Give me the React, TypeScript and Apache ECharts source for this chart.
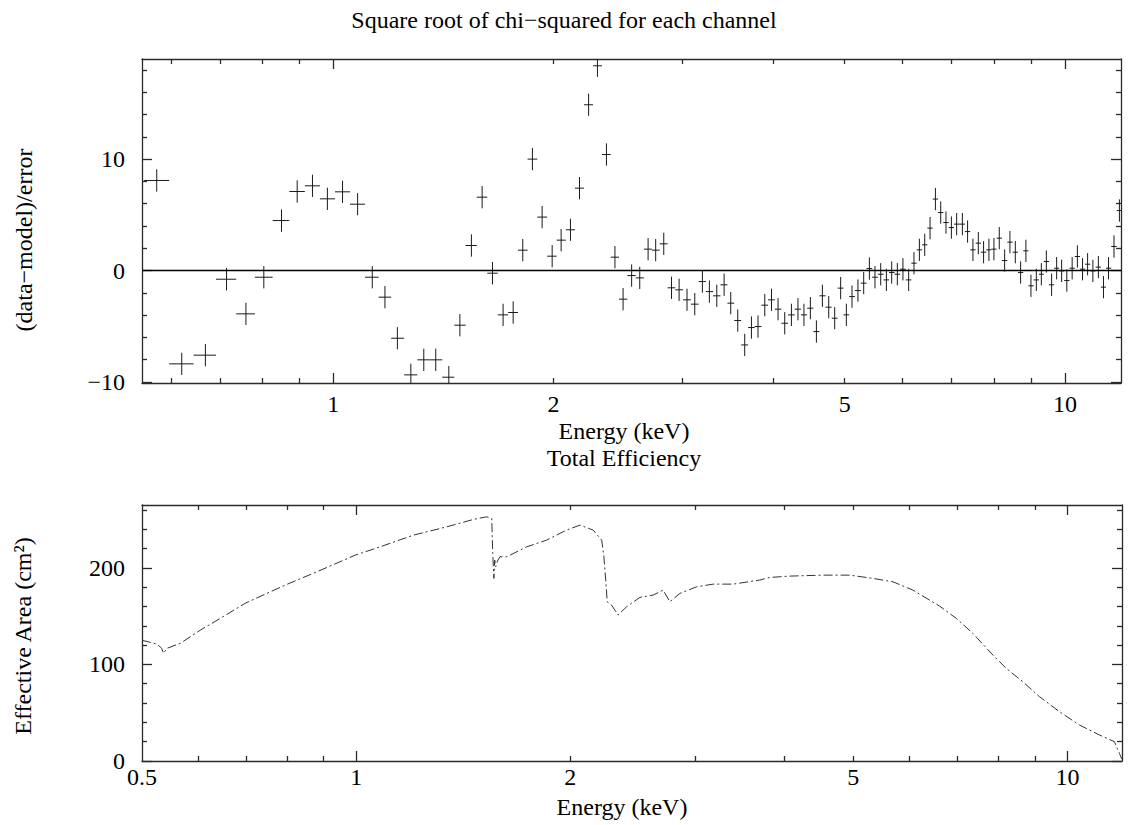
import React, { useEffect, useRef } from 'react';
import * as echarts from 'echarts';

// ---------- Data: residuals (upper panel) ----------
const residEnergy = [
  0.574, 0.621, 0.669, 0.715, 0.760, 0.804, 0.850, 0.893, 0.937, 0.982,
  1.030, 1.080, 1.131, 1.177, 1.224, 1.277, 1.330, 1.381, 1.439, 1.490,
  1.545, 1.598, 1.651, 1.707, 1.762, 1.816, 1.872, 1.930, 1.992, 2.049,
  2.110, 2.171, 2.234, 2.297, 2.363, 2.427, 2.490, 2.558, 2.624, 2.694,
  2.759, 2.830, 2.900, 2.970, 3.045, 3.120, 3.196, 3.267, 3.344, 3.422,
  3.494, 3.572, 3.651, 3.729, 3.807, 3.889, 3.972, 4.055, 4.141, 4.229,
  4.317, 4.399, 4.489, 4.575, 4.662, 4.756, 4.846, 4.938, 5.027, 5.117,
  5.214, 5.309, 5.405, 5.501, 5.601, 5.702, 5.798, 5.902, 6.007, 6.116,
  6.219, 6.326, 6.433, 6.542, 6.653, 6.765, 6.878, 6.996, 7.113, 7.242,
  7.362, 7.487, 7.615, 7.742, 7.873, 7.998, 8.134, 8.272, 8.411, 8.555,
  8.699, 8.845, 8.986, 9.140, 9.285, 9.432, 9.590, 9.743, 9.897, 10.06,
  10.23, 10.40, 10.57, 10.74, 10.92, 11.11, 11.29, 11.47, 11.67, 11.87,
];
const residValue = [
  8.09, -8.38, -7.60, -0.78, -3.89, -0.60, 4.49, 7.10, 7.61, 6.44,
  7.07, 5.96, -0.60, -2.39, -6.08, -9.37, -8.02, -8.02, -9.58, -4.91,
  2.25, 6.59, -0.24, -3.98, -3.77, 1.83, 10.01, 4.80, 1.29, 2.73,
  3.66, 7.40, 14.89, 18.39, 10.42, 1.20, -2.57, -0.45, -0.66, 1.92,
  1.83, 2.40, -1.55, -1.73, -2.63, -3.02, -0.99, -1.89, -2.27, -1.28,
  -2.93, -4.49, -6.68, -5.12, -5.03, -3.11, -2.63, -3.47, -4.73, -3.98,
  -3.47, -3.98, -3.38, -5.48, -2.27, -3.29, -4.28, -1.58, -3.98, -2.34,
  -1.80, -1.13, 0.18, -0.60, -0.33, -0.84, -0.18, -0.33, 0.12, -0.84,
  0.66, 1.86, 2.31, 3.81, 6.42, 5.21, 4.31, 3.86, 4.17, 4.17,
  3.50, 1.86, 2.46, 1.65, 1.86, 1.92, 2.91, 0.90, 2.55, 1.65,
  -0.18, 1.77, -1.37, -0.84, -0.33, 0.81, -1.28, 0.21, -0.03, -0.90,
  0.21, 1.26, 0.12, 0.57, -0.03, 0.31, -1.49, 0.21, 2.16, 5.39,
];
const residError = 1;

// ---------- Data: effective area (lower panel) ----------
const effEnergy = [
  0.500, 0.525, 0.533, 0.536, 0.542, 0.566, 0.604, 0.644, 0.698, 0.749,
  0.799, 0.881, 0.997, 1.081, 1.153, 1.204, 1.341, 1.461, 1.526, 1.551,
  1.556, 1.562, 1.566, 1.571, 1.580, 1.593, 1.628, 1.737, 1.853, 1.976,
  2.064, 2.154, 2.214, 2.230, 2.245, 2.254, 2.286, 2.335, 2.400, 2.506,
  2.616, 2.702, 2.761, 2.852, 3.010, 3.177, 3.388, 3.693, 3.815, 4.071,
  4.533, 4.941, 5.328, 5.684, 6.063, 6.609, 6.978, 7.362, 7.855, 8.201,
  8.653, 9.135, 9.745, 10.40, 11.09, 11.64, 11.83, 11.92,
];
const effArea = [
  125, 121, 116.6, 111.4, 116.6, 121.8, 135.5, 147.6, 163.2, 173.5,
  182.8, 195.9, 213.1, 221.7, 229, 233.8, 242.4, 250, 252.8, 251,
  215, 189, 208, 201, 207, 211.4, 211.4, 221.7, 228.7, 239,
  244.2, 239, 228.7, 211.4, 183.9, 164.8, 161.4, 151.1, 159.7, 169.4,
  171.8, 176.9, 164.8, 173.5, 180.3, 183.1, 183.1, 187.3, 190, 191.4,
  192.4, 192.4, 189, 185.5, 176.9, 160.4, 147.6, 132.1, 109.7, 95.9,
  82.1, 66.5, 51, 37.2, 26.9, 20, 8, 2,
];

// ---------- Ticks ----------
const topXLabelTicks = [1, 2, 5, 10];
const bottomXLabelTicks = [0.5, 1, 2, 5, 10];
const xMajorTicks = [1, 10];
const xMinorTicks = [0.6, 0.7, 0.8, 0.9, 2, 3, 4, 5, 6, 7, 8, 9];
const topYMajorTicks = [-10, 0, 10];
const topYMinorTicks = [-8, -6, -4, -2, 2, 4, 6, 8, 12, 14, 16, 18];
const bottomYMajorTicks = [0, 100, 200];
const bottomYMinorTicks = [20, 40, 60, 80, 120, 140, 160, 180, 220, 240, 260];

const TOP_X_MIN = 0.548;
const BOTTOM_X_MIN = 0.5;
const X_MAX = 11.93;
const TOP_Y_MIN = -10.1;
const TOP_Y_MAX = 19.0;
const BOTTOM_Y_MIN = 0;
const BOTTOM_Y_MAX = 265;

const FONT = 'Liberation Serif';
const FRAME = { color: '#2a2a2a', width: 1.3 };

function fmtNum(v: number) {
  const n = +Number(v).toPrecision(6);
  return n < 0 ? '\u2212' + Math.abs(n) : String(n);
}

function xAxesFor(grid: number, min: number, labelTicks: number[], labelMargin: number) {
  const base: any = {
    gridIndex: grid, type: 'log', logBase: 10, min, max: X_MAX,
    splitLine: { show: false }, minorTick: { show: false }, minorSplitLine: { show: false },
  };
  return [
    {
      ...base, position: 'bottom',
      axisLine: { show: true, onZero: false, lineStyle: FRAME },
      axisTick: { show: true, inside: true, length: 10, customValues: xMajorTicks, lineStyle: FRAME },
      axisLabel: {
        show: true, customValues: labelTicks, formatter: (v: number) => fmtNum(v),
        margin: labelMargin, fontFamily: FONT, fontSize: 24, color: '#000',
      },
    },
    {
      ...base, position: 'bottom',
      axisLine: { show: false, onZero: false },
      axisTick: { show: true, inside: true, length: 5, customValues: xMinorTicks, lineStyle: FRAME },
      axisLabel: { show: false },
    },
    {
      ...base, position: 'top',
      axisLine: { show: true, onZero: false, lineStyle: FRAME },
      axisTick: { show: true, inside: true, length: 10, customValues: xMajorTicks, lineStyle: FRAME },
      axisLabel: { show: false },
    },
    {
      ...base, position: 'top',
      axisLine: { show: false, onZero: false },
      axisTick: { show: true, inside: true, length: 5, customValues: xMinorTicks, lineStyle: FRAME },
      axisLabel: { show: false },
    },
  ];
}

function yAxesFor(grid: number, min: number, max: number, major: number[], minor: number[]) {
  const base: any = {
    gridIndex: grid, type: 'value', min, max,
    splitLine: { show: false },
  };
  return [
    {
      ...base, position: 'left',
      axisLine: { show: true, onZero: false, lineStyle: FRAME },
      axisTick: { show: true, inside: true, length: 10, customValues: major, lineStyle: FRAME },
      axisLabel: {
        show: true, customValues: major, formatter: (v: number) => fmtNum(v),
        margin: 17, fontFamily: FONT, fontSize: 24, color: '#000',
      },
    },
    {
      ...base, position: 'left',
      axisLine: { show: false, onZero: false },
      axisTick: { show: true, inside: true, length: 5, customValues: minor, lineStyle: FRAME },
      axisLabel: { show: false },
    },
    {
      ...base, position: 'right',
      axisLine: { show: true, onZero: false, lineStyle: FRAME },
      axisTick: { show: true, inside: true, length: 10, customValues: major, lineStyle: FRAME },
      axisLabel: { show: false },
    },
    {
      ...base, position: 'right',
      axisLine: { show: false, onZero: false },
      axisTick: { show: true, inside: true, length: 5, customValues: minor, lineStyle: FRAME },
      axisLabel: { show: false },
    },
  ];
}

function label(text: string, x: number, y: number, rotated = false) {
  return {
    type: 'text', x, y, rotation: rotated ? Math.PI / 2 : 0,
    style: {
      text, fontFamily: FONT, fontSize: 24, fill: '#000',
      align: 'center', verticalAlign: 'middle',
    },
  };
}

export default function App() {
  const ref = useRef<HTMLDivElement>(null);

  useEffect(() => {
    if (!ref.current) return;
    const chart = echarts.init(ref.current, undefined, { renderer: 'svg' });

    // bin edges: boundaries where neighbouring crosses meet (log midpoints)
    const n = residEnergy.length;
    const edges: number[] = [];
    for (let i = 0; i <= n; i++) {
      if (i === 0) edges.push(residEnergy[0] * Math.sqrt(residEnergy[0] / residEnergy[1]));
      else if (i === n) edges.push(residEnergy[n - 1] * Math.sqrt(residEnergy[n - 1] / residEnergy[n - 2]));
      else edges.push(Math.sqrt(residEnergy[i - 1] * residEnergy[i]));
    }
    const residData = residEnergy.map((e, i) => [edges[i], edges[i + 1], e, residValue[i]]);
    const effData = effEnergy.map((e, i) => [e, effArea[i]]);

    const option: any = {
      animation: false,
      backgroundColor: '#fff',
      textStyle: { fontFamily: FONT },
      grid: [
        { left: 142, top: 59, width: 979, height: 324 },
        { left: 142, top: 505, width: 980, height: 256 },
      ],
      xAxis: [
        ...xAxesFor(0, TOP_X_MIN, topXLabelTicks, 9),
        ...xAxesFor(1, BOTTOM_X_MIN, bottomXLabelTicks, 4),
      ],
      yAxis: [
        ...yAxesFor(0, TOP_Y_MIN, TOP_Y_MAX, topYMajorTicks, topYMinorTicks),
        ...yAxesFor(1, BOTTOM_Y_MIN, BOTTOM_Y_MAX, bottomYMajorTicks, bottomYMinorTicks),
      ],
      series: [
        {
          type: 'custom',
          name: 'residuals',
          xAxisIndex: 0,
          yAxisIndex: 0,
          clip: true,
          encode: { x: [0, 1, 2], y: 3 },
          data: residData,
          renderItem: (params: any, api: any) => {
            const lo = api.coord([api.value(0), api.value(3)]);
            const hi = api.coord([api.value(1), api.value(3)]);
            const top = api.coord([api.value(2), api.value(3) + residError]);
            const bot = api.coord([api.value(2), api.value(3) - residError]);
            const style = { stroke: '#1a1a1a', lineWidth: 1 };
            return {
              type: 'group',
              children: [
                { type: 'line', shape: { x1: lo[0], y1: lo[1], x2: hi[0], y2: hi[1] }, style },
                { type: 'line', shape: { x1: top[0], y1: top[1], x2: bot[0], y2: bot[1] }, style },
              ],
            };
          },
          markLine: {
            silent: true,
            symbol: 'none',
            label: { show: false },
            lineStyle: { color: '#000', width: 1.3, type: 'solid' },
            data: [{ yAxis: 0 }],
          },
        },
        {
          type: 'line',
          name: 'Total Efficiency',
          xAxisIndex: 4,
          yAxisIndex: 4,
          data: effData,
          showSymbol: false,
          symbol: 'none',
          clip: true,
          lineStyle: { color: '#333', width: 1, type: [9, 3, 2, 3] },
        },
      ],
      graphic: [
        label('Square root of chi\u2212squared for each channel', 564, 20),
        label('(data\u2212model)/error', 24, 240, true),
        label('Energy (keV)', 624, 431),
        label('Total Efficiency', 624, 458),
        label('Effective Area (cm\u00b2)', 23, 636, true),
        label('Energy (keV)', 622, 807),
      ],
    };

    chart.setOption(option);
    return () => chart.dispose();
  }, []);

  return (
    <div
      ref={ref}
      style={{ position: 'absolute', left: 0, top: 0, width: 1128, height: 825, background: '#fff' }}
    />
  );
}
